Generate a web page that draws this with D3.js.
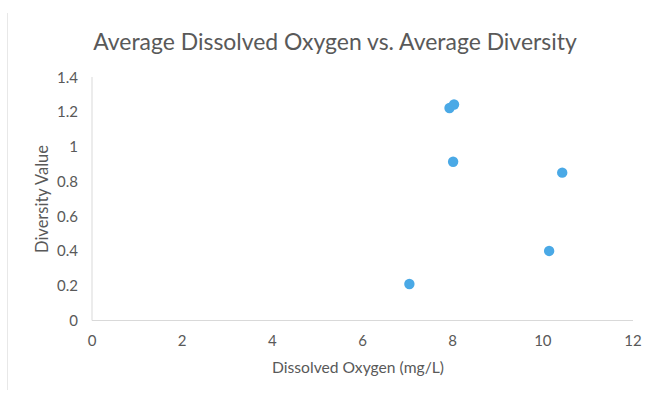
<!DOCTYPE html>
<html><head><meta charset="utf-8">
<script src="https://cdn.jsdelivr.net/npm/d3@7"></script>
<style>body{margin:0;background:#fff}svg{display:block}text{font-family:Lato,"Open Sans",sans-serif;fill:#595959}</style>
</head><body>
<svg id="c" width="656" height="394"></svg>
<script>
const oxygen = [7.04, 7.93, 8.03, 8.01, 10.43, 10.14];
const diversity = [0.21, 1.222, 1.242, 0.913, 0.85, 0.40];
const xTicks = [0, 2, 4, 6, 8, 10, 12];
const yTicks = [0, 0.2, 0.4, 0.6, 0.8, 1, 1.2, 1.4];
const title = "Average Dissolved Oxygen vs. Average Diversity";
const xLabel = "Dissolved Oxygen (mg/L)";
const yLabel = "Diversity Value";

const svg = d3.select("#c");
const x = d3.scaleLinear().domain([0, 12]).range([92, 633]);
const y = d3.scaleLinear().domain([0, 1.4]).range([320.5, 77]);

// left border
svg.append("line").attr("x1", 7.5).attr("x2", 7.5).attr("y1", 13).attr("y2", 390).attr("stroke", "#e8e8e8");

function fitText(sel, w) {
  const l = sel.node().getComputedTextLength();
  const fs = parseFloat(sel.attr("font-size"));
  sel.attr("font-size", fs * w / l);
}

const t = svg.append("text").attr("x", 335).attr("y", 50).attr("text-anchor", "middle").attr("font-size", 22).text(title);
fitText(t, 484);

// axes lines
svg.append("line").attr("x1", x(0)).attr("x2", x(12)).attr("y1", y(0)).attr("y2", y(0)).attr("stroke", "#d9d9d9").attr("stroke-width", 1);
svg.append("line").attr("x1", x(0)).attr("x2", x(0)).attr("y1", y(0)).attr("y2", y(1.4)).attr("stroke", "#d9d9d9").attr("stroke-width", 1);

const fmt = d => String(+d.toFixed(1));
svg.selectAll(".yt").data(yTicks).join("text").attr("class", "yt")
  .attr("x", 78).attr("y", d => y(d) + 5.5).attr("text-anchor", "end").attr("font-size", 15).text(fmt);
svg.selectAll(".xt").data(xTicks).join("text").attr("class", "xt")
  .attr("x", d => x(d)).attr("y", 346).attr("text-anchor", "middle").attr("font-size", 15).text(fmt);

const xl = svg.append("text").attr("x", 358).attr("y", 373).attr("text-anchor", "middle").attr("font-size", 15).text(xLabel);
fitText(xl, 172);
const yl = svg.append("text").attr("transform", "translate(48,199) rotate(-90)").attr("text-anchor", "middle").attr("font-size", 15).text(yLabel);
fitText(yl, 108);

svg.selectAll("circle").data(oxygen).join("circle")
  .attr("cx", d => x(d)).attr("cy", (d, i) => y(diversity[i])).attr("r", 5.2).attr("fill", "#4aa9e6");
</script>
</body></html>
